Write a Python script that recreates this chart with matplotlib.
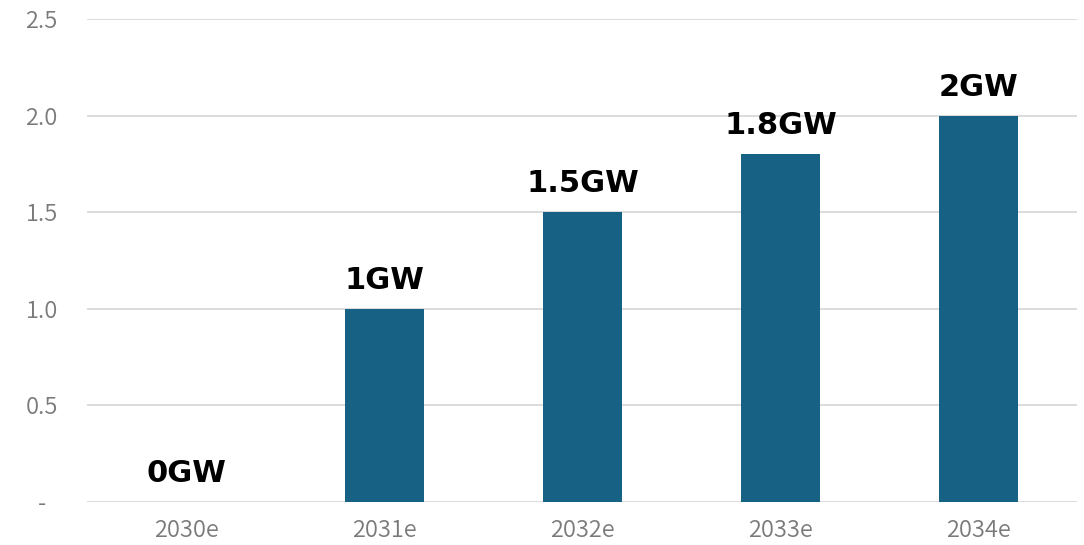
import matplotlib
matplotlib.use("Agg")
import matplotlib.pyplot as plt

categories = ["2030e", "2031e", "2032e", "2033e", "2034e"]
values = [0, 1.0, 1.5, 1.8, 2.0]
labels = ["0GW", "1GW", "1.5GW", "1.8GW", "2GW"]
yticks = [0, 0.5, 1.0, 1.5, 2.0, 2.5]
ytick_labels = ["-", "0.5", "1.0", "1.5", "2.0", "2.5"]

plt.rcParams['font.family'] = ['Noto Sans CJK JP', 'DejaVu Sans']

fig = plt.figure(figsize=(10.84, 5.45), dpi=100)
ax = fig.add_axes([0.0807, 0.079, 0.9133, 0.886])

x = range(len(categories))
bars = ax.bar(x, values, width=0.40, color="#176184", zorder=3)

for xi, v, lab in zip(x, values, labels):
    ax.annotate(lab, (xi, v), xytext=(0, 10), textcoords="offset points",
                ha="center", va="bottom", fontsize=22, fontweight="bold",
                family="DejaVu Sans", color="black", zorder=4)

ax.set_xlim(-0.5, len(categories) - 0.5)
ax.set_ylim(0, 2.5)
ax.set_yticks(yticks)
ax.set_yticklabels(ytick_labels)
ax.set_xticks(list(x))
ax.set_xticklabels(categories)

for s in ax.spines.values():
    s.set_visible(False)
ax.grid(axis="y", color="#d9d9d9", linewidth=1.3, zorder=0)
ax.set_axisbelow(True)
ax.tick_params(axis="both", length=0, labelsize=17, labelcolor="#7a7a7a")
ax.tick_params(axis="y", pad=33)
ax.tick_params(axis="x", pad=12)
for t in ax.get_yticklabels() + ax.get_xticklabels():
    t.set_fontweight(350)
for t in ax.get_yticklabels():
    t.set_horizontalalignment("center")

fig.savefig("out.png", dpi=100)
